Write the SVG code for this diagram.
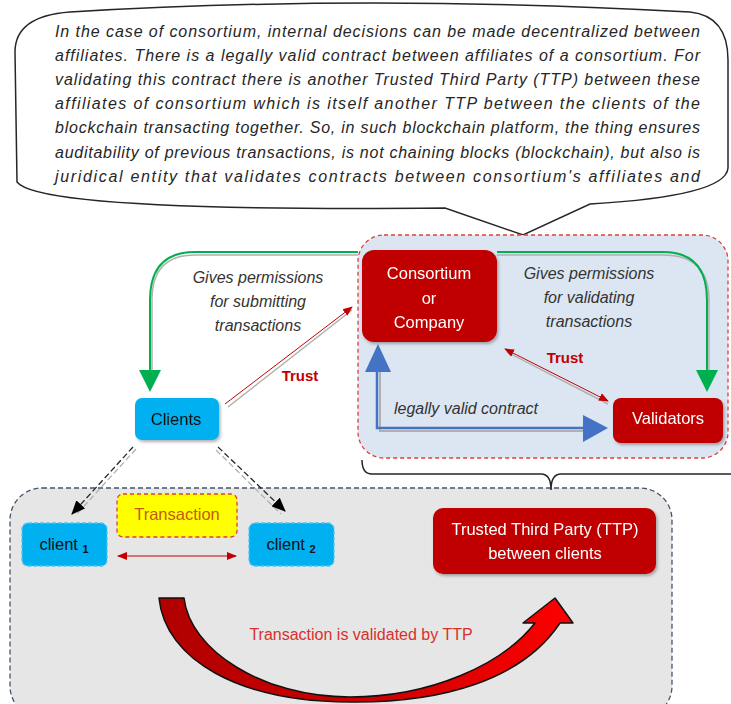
<svg xmlns="http://www.w3.org/2000/svg" width="731" height="704" viewBox="0 0 731 704">
<style>
text{font-family:"Liberation Sans",Arial,sans-serif}
.body{font-size:16px;font-style:italic;fill:#262626}
.lbl{font-size:16.5px;fill:#fff;text-anchor:middle}
.it{font-size:16px;font-style:italic;fill:#333;text-anchor:middle}
.trust{font-size:15px;font-weight:bold;fill:#c00000;text-anchor:middle}
.blue{fill:#00b0f0}
.red{fill:#c00000}
</style>
<defs>
<filter id="sh" x="-10%" y="-10%" width="130%" height="140%"><feDropShadow dx="1.5" dy="2" stdDeviation="1.5" flood-color="#000" flood-opacity="0.3"/></filter>
<marker id="gA" markerWidth="24" markerHeight="24" refX="12" refY="22" orient="auto-start-reverse" markerUnits="userSpaceOnUse" viewBox="0 0 24 24"><path d="M0 0 L24 0 L12 22 Z" fill="#00b050"/></marker>
<marker id="rA" markerWidth="10" markerHeight="10" refX="9" refY="5" orient="auto-start-reverse" markerUnits="userSpaceOnUse"><path d="M0 1 L10 5 L0 9 Z" fill="#c00000"/></marker>
<marker id="kA" markerWidth="14" markerHeight="12" refX="13" refY="6" orient="auto-start-reverse" markerUnits="userSpaceOnUse"><path d="M0 0 L14 6 L0 12 Z" fill="#000"/></marker>
<linearGradient id="gr" x1="0" y1="0" x2="1" y2="0"><stop offset="0" stop-color="#b00000"/><stop offset="0.55" stop-color="#d00000"/><stop offset="1" stop-color="#ff0000"/></linearGradient>
</defs>

<g id="bubble">
<path d="M70 12 Q370 -6 690 12 Q728 16 728 60 L728 168 Q726 196 590 204 L523 235 L445 208 Q40 212 17 182 L15 52 Q15 16 70 12 Z" fill="#fff" stroke="#262626" stroke-width="1.5"/>
<text class="body" x="55" y="37" textLength="645" lengthAdjust="spacing">In the case of consortium, internal decisions can be made decentralized between</text>
<text class="body" x="55" y="61" textLength="645" lengthAdjust="spacing">affiliates. There is a legally valid contract between affiliates of a consortium. For</text>
<text class="body" x="55" y="85" textLength="645" lengthAdjust="spacing">validating this contract there is another Trusted Third Party (TTP) between these</text>
<text class="body" x="55" y="109" textLength="645" lengthAdjust="spacing">affiliates of consortium which is itself another TTP between the clients of the</text>
<text class="body" x="55" y="133" textLength="645" lengthAdjust="spacing">blockchain transacting together. So, in such blockchain platform, the thing ensures</text>
<text class="body" x="55" y="158" textLength="645" lengthAdjust="spacing">auditability of previous transactions, is not chaining blocks (blockchain), but also is</text>
<text class="body" x="55" y="182" textLength="645" lengthAdjust="spacing">juridical entity that validates contracts between consortium's affiliates and</text>
</g>

<g id="consortium-group">
<rect x="358" y="235" width="370" height="223" rx="26" fill="#dce6f2" stroke="#e03c3c" stroke-width="1.3" stroke-dasharray="4 3"/>
</g>

<g id="ttp-group">
<rect x="10" y="488" width="662" height="230" rx="32" fill="#e6e6e6" stroke="#44546a" stroke-width="1.3" stroke-dasharray="5 3"/>
</g>

<g id="brace">
<path d="M362 460 Q362 474 372 474 L541 474 Q551 474 551 490 Q551 474 561 474 L731 474" fill="none" stroke="#262626" stroke-width="1.5"/>
</g>

<g id="connectors">
<!-- green permissions arrows shadows -->
<path d="M358 255 L195 255 Q152 255 152 300 L152 372" fill="none" stroke="#b0b0b0" stroke-width="1.5"/>
<path d="M497 255 L663 255 Q709 255 709 300 L709 372" fill="none" stroke="#b0b0b0" stroke-width="1.5"/>
<path d="M358 252 L195 252 Q150 252 150 300 L150 372" fill="none" stroke="#00b050" stroke-width="2"/>
<path d="M150 370 L139 370 L150 392 L161 370 Z" fill="#00b050"/>
<path d="M497 252 L663 252 Q707 252 707 300 L707 372" fill="none" stroke="#00b050" stroke-width="2"/>
<path d="M707 370 L696 370 L707 392 L718 370 Z" fill="#00b050"/>

<!-- trust clients -> consortium -->
<line x1="228" y1="407" x2="352" y2="310" stroke="#b0b0b0" stroke-width="1.5"/>
<line x1="225" y1="404" x2="352" y2="307" stroke="#c00000" stroke-width="1" marker-end="url(#rA)"/>
<!-- trust consortium <-> validators -->
<line x1="507" y1="352" x2="608" y2="404" stroke="#b0b0b0" stroke-width="1.5"/>
<line x1="505" y1="349" x2="608" y2="401" stroke="#c00000" stroke-width="1" marker-start="url(#rA)" marker-end="url(#rA)"/>

<!-- blue legal contract -->
<path d="M380 372 L380 431 L585 431" fill="none" stroke="#b0b0b0" stroke-width="2"/>
<path d="M377 370 L377 428 L585 428" fill="none" stroke="#4472c4" stroke-width="2.5"/>
<path d="M365 372 L378 344 L391 372 Z" fill="#4472c4"/>
<path d="M583 415 L608 428 L583 442 Z" fill="#4472c4"/>

<!-- dashed clients -> client1/2 -->
<line x1="136" y1="449" x2="76" y2="515" stroke="#b0b0b0" stroke-width="1.3" stroke-dasharray="6 3"/>
<line x1="133" y1="447" x2="72" y2="514" stroke="#262626" stroke-width="1.3" stroke-dasharray="6 3" marker-end="url(#kA)"/>
<line x1="216" y1="450" x2="281" y2="514" stroke="#b0b0b0" stroke-width="1.3" stroke-dasharray="6 3"/>
<line x1="218" y1="447" x2="285" y2="511" stroke="#262626" stroke-width="1.3" stroke-dasharray="6 3" marker-end="url(#kA)"/>

<!-- transaction double arrow -->
<line x1="118" y1="556" x2="236" y2="556" stroke="#c00000" stroke-width="1" marker-start="url(#rA)" marker-end="url(#rA)"/>

<!-- big curved arrow -->
<path d="M159 598 L184 598 C190 650 262 697 350 697 C430 697 502 665 535 623 L523 623 L555 598 L573 623 L560 623 C522 680 442 703 350 702 C240 702 165 660 159 598 Z" fill="url(#gr)" stroke="#111" stroke-width="1.5" stroke-linejoin="round"/>
</g>

<g id="labels">
<text class="it" x="258" y="283">Gives permissions</text>
<text class="it" x="258" y="307">for submitting</text>
<text class="it" x="258" y="331">transactions</text>
<text class="it" x="589" y="279">Gives permissions</text>
<text class="it" x="589" y="303">for validating</text>
<text class="it" x="589" y="327">transactions</text>
<text class="trust" x="300" y="381">Trust</text>
<text class="trust" x="565" y="363">Trust</text>
<text class="it" x="466" y="414">legally valid contract</text>
<text x="361" y="640" font-size="16" fill="#d9302c" text-anchor="middle">Transaction is validated by TTP</text>
</g>

<g id="consortium" filter="url(#sh)">
<rect x="362" y="250" width="135" height="92" rx="12" class="red"/>
<text class="lbl" x="429" y="279">Consortium</text>
<text class="lbl" x="429" y="304">or</text>
<text class="lbl" x="429" y="328">Company</text>
</g>

<g id="validators" filter="url(#sh)">
<rect x="613" y="398" width="110" height="45" rx="8" class="red"/>
<text class="lbl" x="668" y="424">Validators</text>
</g>

<g id="clients" filter="url(#sh)">
<rect x="135" y="398" width="84" height="42" rx="7" class="blue"/>
<text x="176" y="425" font-size="16.5" fill="#111" text-anchor="middle">Clients</text>
</g>

<g id="transaction">
<rect x="117" y="494" width="120" height="43" rx="6" fill="#ffff00" stroke="#e03c3c" stroke-width="1.3" stroke-dasharray="4 3"/>
<text x="177" y="520" font-size="16.5" fill="#c55a11" text-anchor="middle">Transaction</text>
</g>

<g id="client1">
<rect x="22" y="523" width="85" height="43" rx="6" class="blue" stroke="#4fc3f0" stroke-width="1.3" stroke-dasharray="4 2"/>
<text x="64" y="550" font-size="16.5" fill="#111" text-anchor="middle">client <tspan font-size="11" font-weight="bold" dy="3">1</tspan></text>
</g>

<g id="client2">
<rect x="249" y="523" width="85" height="43" rx="6" class="blue" stroke="#4fc3f0" stroke-width="1.3" stroke-dasharray="4 2"/>
<text x="291" y="550" font-size="16.5" fill="#111" text-anchor="middle">client <tspan font-size="11" font-weight="bold" dy="3">2</tspan></text>
</g>

<g id="ttp" filter="url(#sh)">
<rect x="433" y="508" width="223" height="66" rx="10" class="red"/>
<text class="lbl" x="545" y="535">Trusted Third Party (TTP)</text>
<text class="lbl" x="545" y="559">between clients</text>
</g>
</svg>
